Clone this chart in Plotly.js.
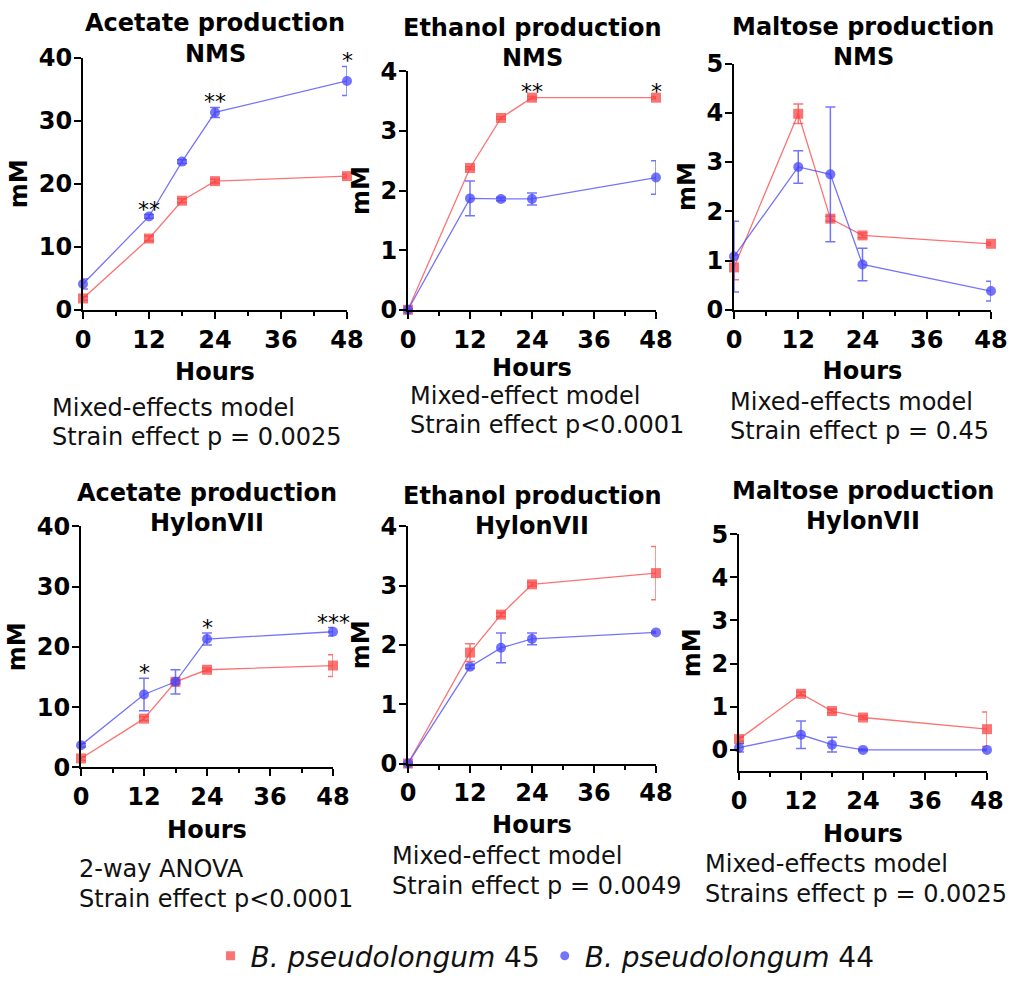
<!DOCTYPE html>
<html>
<head>
<meta charset="utf-8">
<script src="https://cdn.plot.ly/plotly-3.0.1.min.js"></script>
<style>html,body{margin:0;padding:0;background:#fff;}#chart{width:1011px;height:981px;}</style>
</head>
<body>
<div id="chart"></div>
<script>
// ---------- data ----------
const hours = [0, 12, 18, 24, 48];
const xTicks = [0, 12, 24, 36, 48];
const strainNames = ['<i>B. pseudolongum</i> 45', '<i>B. pseudolongum</i> 44'];

const acetateNMS45 = [1.8, 11.3, 17.3, 20.4, 21.2];
const acetateNMS45Err = [0.3, 0.4, 0.3, 0.3, 0.3];
const acetateNMS44 = [4.1, 14.8, 23.5, 31.3, 36.3];
const acetateNMS44Err = [0.8, 0.3, 0.3, 0.8, 2.3];
const acetateNMSSig = ['', '**', '', '**', '*'];

const ethanolNMS45 = [0, 2.38, 3.22, 3.56, 3.56];
const ethanolNMS45Err = [0, 0.02, 0.02, 0.02, 0.02];
const ethanolNMS44 = [0, 1.87, 1.86, 1.86, 2.22];
const ethanolNMS44Err = [0, 0.29, 0.03, 0.1, 0.28];
const ethanolNMSSig = ['', '', '', '**', '*'];

const maltoseNMS45 = [0.86, 3.98, 1.85, 1.51, 1.34];
const maltoseNMS45Err = [0.25, 0.2, 0.05, 0.05, 0.03];
const maltoseNMS44 = [1.08, 2.9, 2.75, 0.92, 0.38];
const maltoseNMS44Err = [0.72, 0.33, 1.37, 0.33, 0.2];

const acetateHyl45 = [1.5, 8.1, 14.2, 16.2, 16.9];
const acetateHyl45Err = [0.3, 0.3, 0.3, 0.3, 1.8];
const acetateHyl44 = [3.7, 12.1, 14.2, 21.3, 22.5];
const acetateHyl44Err = [0.3, 2.7, 2.0, 1.0, 0.7];
const acetateHylSig = ['', '*', '', '*', '***'];

const ethanolHyl45 = [0, 1.87, 2.51, 3.02, 3.21];
const ethanolHyl45Err = [0, 0.15, 0.03, 0.03, 0.45];
const ethanolHyl44 = [0, 1.63, 1.95, 2.1, 2.21];
const ethanolHyl44Err = [0, 0.03, 0.25, 0.1, 0.02];

const maltoseHyl45 = [0.25, 1.3, 0.9, 0.75, 0.48];
const maltoseHyl45Err = [0.05, 0.04, 0.04, 0.04, 0.4];
const maltoseHyl44 = [0.05, 0.35, 0.12, 0, 0];
const maltoseHyl44Err = [0.1, 0.32, 0.17, 0.02, 0.02];

const titles1 = ['Acetate production', 'Ethanol production', 'Maltose production',
                 'Acetate production', 'Ethanol production', 'Maltose production'];
const titles2 = ['NMS', 'NMS', 'NMS', 'HylonVII', 'HylonVII', 'HylonVII'];
const statLine1 = ['Mixed-effects model', 'Mixed-effect model', 'Mixed-effects model',
                   '2-way ANOVA', 'Mixed-effect model', 'Mixed-effects model'];
const statLine2 = ['Strain effect p = 0.0025', 'Strain effect p<0.0001', 'Strain effect p = 0.45',
                   'Strain effect p<0.0001', 'Strain effect p = 0.0049', 'Strains effect p = 0.0025'];

// ---------- styling / layout ----------
const W = 1011, H = 981;
const RED = 'rgba(250,70,70,0.75)';
const BLUE = 'rgba(70,70,250,0.75)';
const FONT = 'DejaVu Sans, Liberation Sans, Arial, sans-serif';

const panels = [
  {s45: acetateNMS45, e45: acetateNMS45Err, s44: acetateNMS44, e44: acetateNMS44Err, sig: acetateNMSSig, sigOn: 44,
   px: [83, 347], py: [312, 58], yr: [0, 40], dt: 10, hs: 11,
   tl: 215, ty: [23, 54], ax: 50, ay: [411, 440]},
  {s45: ethanolNMS45, e45: ethanolNMS45Err, s44: ethanolNMS44, e44: ethanolNMS44Err, sig: ethanolNMSSig, sigOn: 45,
   px: [408, 656], py: [312, 72], yr: [0, 4], dt: 1, hs: 5,
   tl: 532, ty: [28, 58], ax: 408, ay: [399, 428]},
  {s45: maltoseNMS45, e45: maltoseNMS45Err, s44: maltoseNMS44, e44: maltoseNMS44Err, sig: null,
   px: [734, 991], py: [312, 64], yr: [0, 5], dt: 1, hs: 10,
   tl: 863, ty: [27, 57], ax: 728, ay: [405, 434]},
  {s45: acetateHyl45, e45: acetateHyl45Err, s44: acetateHyl44, e44: acetateHyl44Err, sig: acetateHylSig, sigOn: 44,
   px: [81, 333], py: [773, 530], yr: [0, 40], dt: 10, hs: 11,
   tl: 207, ty: [497, 527], ax: 77, ay: [875, 905]},
  {s45: ethanolHyl45, e45: ethanolHyl45Err, s44: ethanolHyl44, e44: ethanolHyl44Err, sig: null,
   px: [408, 656], py: [769, 530], yr: [0, 4], dt: 1, hs: 10,
   tl: 532, ty: [500, 530], ax: 390, ay: [862, 892]},
  {s45: maltoseHyl45, e45: maltoseHyl45Err, s44: maltoseHyl44, e44: maltoseHyl44Err, sig: null,
   px: [739, 987], py: [777, 538], yr: [-0.5, 5], dt: 1, hs: 11,
   tl: 863, ty: [495, 525], ax: 703, ay: [870, 900]}
];

const traces = [];
const annotations = [];
const layout = {
  width: W, height: H,
  margin: {l: 0, r: 0, t: 0, b: 0},
  paper_bgcolor: '#fff', plot_bgcolor: '#fff',
  font: {family: FONT, color: '#000'},
  showlegend: true,
  legend: {orientation: 'h', x: 545 / W, xanchor: 'center', y: 1 - 963 / H, yanchor: 'middle',
           font: {family: FONT, size: 28, color: '#111'}, itemclick: false, tracegroupgap: 0},
  annotations: annotations
};

panels.forEach((p, i) => {
  const n = i + 1;
  const xa = 'x' + (n === 1 ? '' : n), ya = 'y' + (n === 1 ? '' : n);
  const xk = 'xaxis' + (n === 1 ? '' : n), yk = 'yaxis' + (n === 1 ? '' : n);
  const series = [
    {y: p.s45, e: p.e45, color: RED, sym: 'square', size: 10},
    {y: p.s44, e: p.e44, color: BLUE, sym: 'circle', size: 10}
  ];
  series.forEach(s => {
    traces.push({
      x: hours, y: s.y, xaxis: xa, yaxis: ya, type: 'scatter', mode: 'lines+markers',
      showlegend: false, cliponaxis: false,
      line: {color: s.color, width: 1.3},
      marker: {color: s.color, symbol: s.sym, size: s.size, line: {width: 0}},
      error_y: {type: 'data', array: s.e, visible: true, color: s.color, thickness: 1.5, width: 5}
    });
  });
  layout[xk] = {
    domain: [p.px[0] / W, p.px[1] / W], anchor: ya, range: [0, 48],
    tickmode: 'array', tickvals: xTicks, ticks: 'outside', ticklen: 7, tickwidth: 2, tickcolor: '#000',
    minor: {dtick: 6, tick0: 0, ticks: 'outside', ticklen: 4, tickwidth: 2, tickcolor: '#000', showgrid: false},
    showline: true, linecolor: '#000', linewidth: 2, showgrid: false, zeroline: false,
    tickfont: {family: FONT, size: 24, weight: 700, color: '#000'},
    title: {text: 'Hours', font: {family: FONT, size: 24, weight: 700, color: '#000'}, standoff: p.hs},
    fixedrange: true
  };
  layout[yk] = {
    domain: [1 - p.py[0] / H, 1 - p.py[1] / H], anchor: xa, range: p.yr,
    tickmode: 'linear', tick0: 0, dtick: p.dt, ticks: 'outside', ticklen: 7, tickwidth: 2, tickcolor: '#000',
    ticklabelstandoff: -3,
    showline: true, linecolor: '#000', linewidth: 2, showgrid: false, zeroline: false,
    tickfont: {family: FONT, size: 24, weight: 700, color: '#000'},
    title: {text: 'mM', font: {family: FONT, size: 24, weight: 700, color: '#000'}, standoff: 4},
    fixedrange: true
  };
  // titles
  [titles1[i], titles2[i]].forEach((t, k) => {
    annotations.push({text: t, xref: 'paper', yref: 'paper', x: p.tl / W, y: 1 - p.ty[k] / H,
      xanchor: 'center', yanchor: 'middle', showarrow: false,
      font: {family: FONT, size: 24, weight: 700, color: '#000'}});
  });
  // statistics text
  [statLine1[i], statLine2[i]].forEach((t, k) => {
    annotations.push({text: t, xref: 'paper', yref: 'paper', x: p.ax / W, y: 1 - p.ay[k] / H,
      xanchor: 'left', yanchor: 'middle', showarrow: false,
      font: {family: FONT, size: 24, color: '#111'}});
  });
  // significance stars
  if (p.sig) {
    const vals = p.sigOn === 44 ? p.s44 : p.s45;
    const errs = p.sigOn === 44 ? p.e44 : p.e45;
    p.sig.forEach((lab, j) => {
      if (!lab) return;
      annotations.push({text: lab, xref: xa, yref: ya, x: hours[j], y: vals[j] + errs[j],
        xanchor: 'center', yanchor: 'bottom', yshift: -9, showarrow: false,
        font: {family: FONT, size: 22, color: '#000'}});
    });
  }
});

// legend entries
[{name: strainNames[0], color: RED, sym: 'square'}, {name: strainNames[1], color: BLUE, sym: 'circle'}].forEach(l => {
  traces.push({x: [null], y: [null], type: 'scatter', mode: 'markers', name: l.name, showlegend: true,
    marker: {color: l.color, symbol: l.sym, size: 9}});
});

Plotly.newPlot('chart', traces, layout, {displayModeBar: false, staticPlot: true});
</script>
</body>
</html>
